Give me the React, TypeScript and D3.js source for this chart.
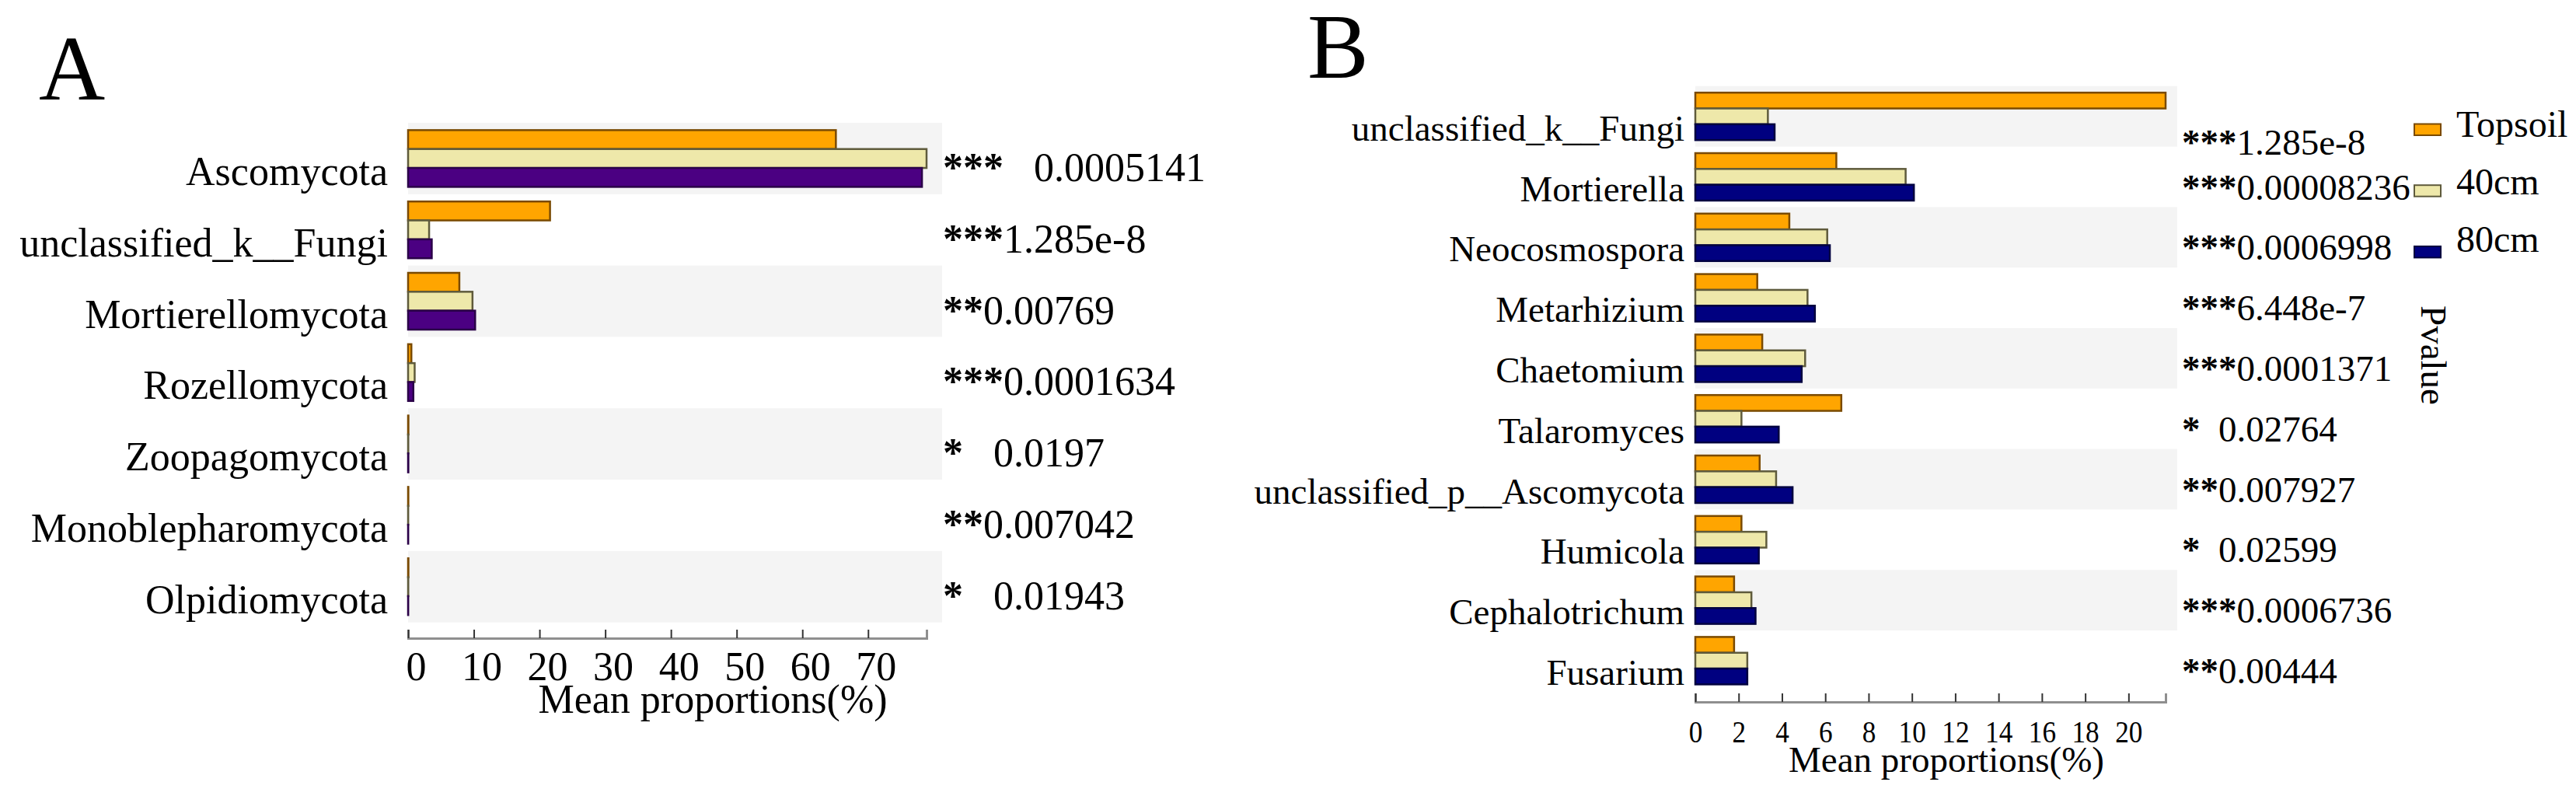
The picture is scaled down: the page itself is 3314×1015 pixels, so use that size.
import React, { useRef, useEffect } from "react";
import * as d3 from "d3";

// ---- Panel A: phylum level ----
const phyla = [
  "Ascomycota",
  "unclassified_k__Fungi",
  "Mortierellomycota",
  "Rozellomycota",
  "Zoopagomycota",
  "Monoblepharomycota",
  "Olpidiomycota",
];
const phylaTopsoil = [65.1, 21.6, 7.8, 0.5, 0.05, 0.04, 0.05];
const phyla40cm = [78.9, 3.2, 9.8, 1.0, 0.03, 0.02, 0.03];
const phyla80cm = [78.2, 3.6, 10.2, 0.8, 0.04, 0.02, 0.02];
const phylaStars = ["***", "***", "**", "***", "*", "**", "*"];
const phylaP = ["   0.0005141", "1.285e-8", "0.00769", "0.0001634", "   0.0197", "0.007042", "   0.01943"];
const ticksA = [0, 10, 20, 30, 40, 50, 60, 70];

// ---- Panel B: genus level ----
const genera = [
  "unclassified_k__Fungi",
  "Mortierella",
  "Neocosmospora",
  "Metarhizium",
  "Chaetomium",
  "Talaromyces",
  "unclassified_p__Ascomycota",
  "Humicola",
  "Cephalotrichum",
  "Fusarium",
];
const generaTopsoil = [21.71, 6.51, 4.34, 2.86, 3.09, 6.74, 2.97, 2.13, 1.79, 1.79];
const genera40cm = [3.35, 9.71, 6.09, 5.18, 5.07, 2.13, 3.73, 3.28, 2.59, 2.4];
const genera80cm = [3.66, 10.09, 6.21, 5.52, 4.91, 3.85, 4.49, 2.93, 2.78, 2.4];
const generaStars = ["***", "***", "***", "***", "***", "*", "**", "*", "***", "**"];
const generaP = ["1.285e-8", "0.00008236", "0.0006998", "6.448e-7", "0.0001371", "  0.02764", "0.007927", "  0.02599", "0.0006736", "0.00444"];
const ticksB = [0, 2, 4, 6, 8, 10, 12, 14, 16, 18, 20];

const groups = ["Topsoil", "40cm", "80cm"];

const FONT = "'Liberation Serif', 'Times New Roman', serif";

function drawPanel(svg, cfg) {
  const { letter, categories, series, colors, strokes, stars, pvals, ticks, L } = cfg;

  const x = d3
    .scaleLinear()
    .domain([0, d3.max(series.flat())])
    .range([L.x0, L.x1]);

  const y = d3
    .scaleBand()
    .domain(categories)
    .range([L.y0, L.y0 + L.rowH * categories.length]);

  const inner = d3
    .scaleBand()
    .domain(d3.range(series.length))
    .range([0, L.groupH]);

  const off = (y.bandwidth() - L.groupH) / 2;
  const g = svg.append("g").attr("font-family", FONT);

  // panel letter
  g.append("text")
    .attr("x", L.letterX)
    .attr("y", L.letterY)
    .attr("font-size", 118)
    .text(letter);

  // alternating background stripes
  g.selectAll(".band")
    .data(categories.filter((_, i) => i % 2 === 0))
    .enter()
    .append("rect")
    .attr("x", L.x0)
    .attr("y", d => y(d))
    .attr("width", L.bandX1 - L.x0)
    .attr("height", y.bandwidth())
    .attr("fill", "#f4f4f4");

  // bars
  series.forEach((vals, j) => {
    g.selectAll(".bar" + j)
      .data(vals)
      .enter()
      .append("rect")
      .attr("x", x(0))
      .attr("y", (d, i) => y(categories[i]) + off + inner(j))
      .attr("width", d => x(d) - x(0))
      .attr("height", inner.bandwidth())
      .attr("fill", colors[j])
      .attr("stroke", strokes[j])
      .attr("stroke-width", 2.5);
  });

  // category labels
  g.selectAll(".cat")
    .data(categories)
    .enter()
    .append("text")
    .attr("x", L.labelX)
    .attr("y", d => y(d) + y.bandwidth() / 2 + L.labelDy)
    .attr("text-anchor", "end")
    .attr("font-size", L.fs)
    .text(d => d);

  // significance + p values (first row sits a bit lower in panel B)
  const pt = g.selectAll(".pv")
    .data(categories)
    .enter()
    .append("text")
    .attr("x", L.pX)
    .attr("y", (d, i) => y(d) + y.bandwidth() / 2 + L.pDy + (i === 0 ? L.pFirstShift : 0))
    .attr("font-size", L.pfs)
    .style("white-space", "pre");
  pt.append("tspan").attr("font-weight", "bold").text((d, i) => stars[i]);
  pt.append("tspan").text((d, i) => pvals[i]);

  // x axis
  const ax = g.append("g")
    .attr("transform", `translate(0,${L.axisY})`)
    .call(
      d3.axisBottom(x)
        .tickValues(ticks)
        .tickSizeInner(-11)
        .tickSizeOuter(-11)
        .tickFormat(d3.format("d"))
    );
  ax.attr("font-family", FONT).attr("font-size", L.tfs);
  ax.select(".domain").attr("stroke", "#8f8f8f").attr("stroke-width", 3);
  ax.selectAll(".tick line").attr("stroke", "#333").attr("stroke-width", 2);
  ax.selectAll(".tick text")
    .attr("y", L.tickDy)
    .attr("dy", 0)
    .attr("dx", L.tickDx)
    .attr("transform", `scale(${L.tickSx},1)`)
    .attr("fill", "#000");

  g.append("text")
    .attr("x", L.titleX)
    .attr("y", L.titleY)
    .attr("text-anchor", "middle")
    .attr("font-size", L.fs)
    .text("Mean proportions(%)");

  return { x, y };
}

const App = () => {
  const svgRef = useRef();

  useEffect(() => {
    const svg = d3.select(svgRef.current);
    svg.selectAll("*").remove();

    drawPanel(svg, {
      letter: "A",
      categories: phyla,
      series: [phylaTopsoil, phyla40cm, phyla80cm],
      colors: ["#ffa500", "#eee8aa", "#4b0082"],
      strokes: ["#7a4a00", "#5f5b3c", "#2a0048"],
      stars: phylaStars,
      pvals: phylaP,
      ticks: ticksA,
      L: {
        letterX: 50, letterY: 128,
        x0: 525, x1: 1192, bandX1: 1212,
        y0: 158, rowH: 91.8, groupH: 73,
        labelX: 499, labelDy: 34, fs: 52,
        pX: 1213, pDy: 29, pFirstShift: 0, pfs: 52,
        axisY: 821, tfs: 52, tickDy: 54, tickDx: 10, tickSx: 1,
        titleX: 917, titleY: 917,
      },
    });

    drawPanel(svg, {
      letter: "B",
      categories: genera,
      series: [generaTopsoil, genera40cm, genera80cm],
      colors: ["#ffa500", "#eee8aa", "#000080"],
      strokes: ["#7a4a00", "#5f5b3c", "#00003f"],
      stars: generaStars,
      pvals: generaP,
      ticks: ticksB,
      L: {
        letterX: 1682, letterY: 100,
        x0: 2181, x1: 2786, bandX1: 2801,
        y0: 110.8, rowH: 77.8, groupH: 61,
        labelX: 2167, labelDy: 31, fs: 47,
        pX: 2807, pDy: 29, pFirstShift: 20, pfs: 47,
        axisY: 903, tfs: 40, tickDy: 52, tickDx: 0, tickSx: 0.88,
        titleX: 2504, titleY: 993,
      },
    });

    // legend for panel B
    const leg = svg.append("g").attr("font-family", FONT);
    const colorsB = ["#ffa500", "#eee8aa", "#000080"];
    const strokesB = ["#7a4a00", "#5f5b3c", "#00003f"];
    leg.selectAll("rect")
      .data(groups)
      .enter()
      .append("rect")
      .attr("x", 3106)
      .attr("y", (d, i) => 159.5 + i * 78.7)
      .attr("width", 34)
      .attr("height", 14.5)
      .attr("fill", (d, i) => colorsB[i])
      .attr("stroke", (d, i) => strokesB[i])
      .attr("stroke-width", 2);
    leg.selectAll("text")
      .data(groups)
      .enter()
      .append("text")
      .attr("x", 3160)
      .attr("y", (d, i) => 176 + i * 74)
      .attr("font-size", 48)
      .text(d => d);

    svg.append("text")
      .attr("font-family", FONT)
      .attr("font-size", 47)
      .attr("text-anchor", "middle")
      .attr("transform", "translate(3115,457)rotate(90)")
      .text("Pvalue");
  }, []);

  return (
    <>
      <style>{"body{margin:0}"}</style>
      <svg ref={svgRef} width={3314} height={1015} style={{ display: "block", background: "#fff" }}></svg>
    </>
  );
};

export default App;
